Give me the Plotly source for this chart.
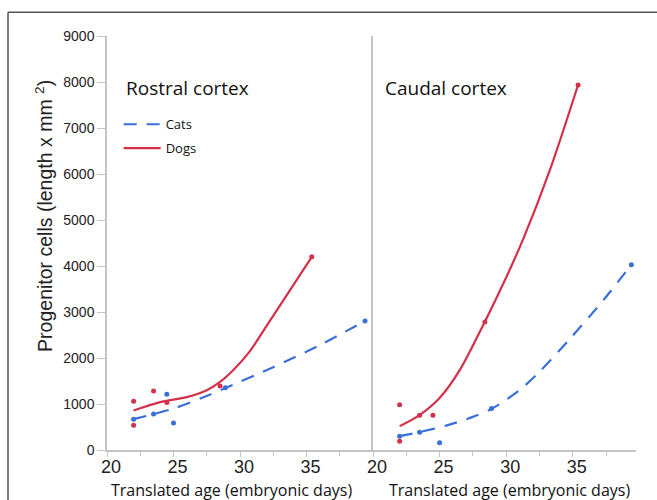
import plotly.graph_objects as go

# ---------------- data ----------------
# Rostral cortex (left panel) observed points
rostral_dogs_x = [22, 22, 23.5, 24.5, 28.5, 35.4]
rostral_dogs_y = [1060, 540, 1280, 1030, 1390, 4200]
rostral_cats_x = [22, 23.5, 24.5, 25, 28.9, 39.4]
rostral_cats_y = [670, 780, 1210, 585, 1355, 2806]

# Rostral fitted curves
rostral_dogs_fit_x = [22, 24, 26, 27.5, 28.5, 29.5, 30.75, 32, 35.4]
rostral_dogs_fit_y = [860, 1040, 1150, 1300, 1480, 1740, 2150, 2700, 4200]
rostral_cats_fit_x = [22, 23.5, 25, 27.2, 29, 32.5, 36, 39.4]
rostral_cats_fit_y = [670, 780, 900, 1140, 1360, 1800, 2280, 2806]

# Caudal cortex (right panel) observed points
caudal_dogs_x = [22, 22, 23.5, 24.5, 28.4, 35.4]
caudal_dogs_y = [985, 192, 758, 758, 2785, 7935]
caudal_cats_x = [22, 23.5, 25, 28.9, 39.4]
caudal_cats_y = [300, 388, 157, 904, 4027]

# Caudal fitted curves
caudal_dogs_fit_x = [22, 23.5, 25, 26.5, 28.4, 30, 31.3, 33.3, 35.4]
caudal_dogs_fit_y = [519, 760, 1130, 1730, 2790, 3750, 4600, 6100, 7935]
caudal_cats_fit_x = [22, 23.5, 25.5, 27.5, 29, 31, 32.5, 34.8, 37.3, 39.4]
caudal_cats_fit_y = [300, 390, 530, 720, 910, 1300, 1700, 2423, 3257, 4027]

x_tick_vals = [20, 25, 30, 35, 40]
left_tick_text = ["20", "25", "30", "35", ""]
right_tick_text = ["20", "25", "30", "35", ""]
y_tick_vals = [0, 1000, 2000, 3000, 4000, 5000, 6000, 7000, 8000, 9000]

panel_titles = ["Rostral cortex", "Caudal cortex"]
x_title = "Translated age (embryonic days)"
y_title = "Progenitor cells (length x mm <sup>2</sup>)"

RED = "#d4304a"
BLUE = "#3a6fda"
DASH = "13px,10px"
SMOOTH = 0.8

fig = go.Figure()

# fitted curves
fig.add_trace(go.Scatter(x=rostral_cats_fit_x, y=rostral_cats_fit_y, mode="lines",
                         line=dict(color=BLUE, width=2.2, dash=DASH, shape="spline", smoothing=SMOOTH),
                         name="Cats", legendgroup="cats", xaxis="x", yaxis="y"))
fig.add_trace(go.Scatter(x=rostral_dogs_fit_x, y=rostral_dogs_fit_y, mode="lines",
                         line=dict(color=RED, width=2.2, shape="spline", smoothing=SMOOTH),
                         name="Dogs", legendgroup="dogs", xaxis="x", yaxis="y"))
fig.add_trace(go.Scatter(x=caudal_cats_fit_x, y=caudal_cats_fit_y, mode="lines",
                         line=dict(color=BLUE, width=2.2, dash=DASH, shape="spline", smoothing=SMOOTH),
                         showlegend=False, xaxis="x2", yaxis="y2"))
fig.add_trace(go.Scatter(x=caudal_dogs_fit_x, y=caudal_dogs_fit_y, mode="lines",
                         line=dict(color=RED, width=2.2, shape="spline", smoothing=SMOOTH),
                         showlegend=False, xaxis="x2", yaxis="y2"))

# observed points
for xs, ys, c, xa, ya in [
    (rostral_cats_x, rostral_cats_y, BLUE, "x", "y"),
    (rostral_dogs_x, rostral_dogs_y, RED, "x", "y"),
    (caudal_cats_x, caudal_cats_y, BLUE, "x2", "y2"),
    (caudal_dogs_x, caudal_dogs_y, RED, "x2", "y2"),
]:
    fig.add_trace(go.Scatter(x=xs, y=ys, mode="markers", marker=dict(color=c, size=5),
                             showlegend=False, xaxis=xa, yaxis=ya))

AXC = "#c4c4c4"
tickfont_x = dict(family="Liberation Sans, Arial, sans-serif", size=18, color="#222")
tickfont_y = dict(family="Liberation Sans, Arial, sans-serif", size=14, color="#222")

split = (373 - 107) / (636 - 107)

xcommon = dict(showline=True, linecolor=AXC, linewidth=1.5, showgrid=False, zeroline=False,
               ticks="outside", ticklen=5, tickcolor=AXC, tickvals=x_tick_vals,
               tickfont=tickfont_x, ticklabelstandoff=-5, ticklabelshift=4,
               minor=dict(dtick=2.5, tick0=20, ticks="outside", ticklen=4, tickcolor=AXC))

fig.update_layout(
    width=657, height=500,
    margin=dict(l=107, r=21, t=36, b=50),
    paper_bgcolor="white", plot_bgcolor="white",
    showlegend=True,
    legend=dict(x=0.022, y=0.823, xanchor="left", yanchor="top",
                font=dict(family="Open Sans, sans-serif", size=13, color="#111"),
                bgcolor="rgba(0,0,0,0)", tracegroupgap=4, itemwidth=37),
    xaxis=dict(domain=[0, split], range=[20, 40], ticktext=left_tick_text, anchor="y", **xcommon),
    xaxis2=dict(domain=[split, 1], range=[20, 39.75], ticktext=right_tick_text, anchor="y2", **xcommon),
    yaxis=dict(range=[0, 9000], showline=True, linecolor=AXC, linewidth=1.5, showgrid=False,
               zeroline=False, ticks="outside", ticklen=8, tickcolor=AXC,
               tickvals=y_tick_vals, tickfont=tickfont_y, anchor="x"),
    yaxis2=dict(range=[0, 9000], showline=True, linecolor=AXC, linewidth=1.5, showgrid=False,
                zeroline=False, ticks="", showticklabels=False, anchor="x2", matches="y"),
)

title_font = dict(family="Open Sans, sans-serif", size=19, color="#111")
fig.add_annotation(text=panel_titles[0], xref="paper", yref="paper", x=(124 - 107) / 529,
                   y=(449.5 - 88) / 413.8, xanchor="left", yanchor="middle",
                   showarrow=False, font=title_font)
fig.add_annotation(text=panel_titles[1], xref="paper", yref="paper", x=(383 - 107) / 529,
                   y=(449.5 - 88) / 413.8, xanchor="left", yanchor="middle",
                   showarrow=False, font=title_font)

xt_font = dict(family="Open Sans, sans-serif", size=16, color="#111")
fig.add_annotation(text=x_title, xref="paper", yref="paper", x=(231 - 107) / 529,
                   y=-(489 - 449.5) / 413.8, xanchor="center", yanchor="middle",
                   showarrow=False, font=xt_font)
fig.add_annotation(text=x_title, xref="paper", yref="paper", x=(509 - 107) / 529,
                   y=-(489 - 449.5) / 413.8, xanchor="center", yanchor="middle",
                   showarrow=False, font=xt_font)
fig.add_annotation(text=y_title, xref="paper", yref="paper", x=(44 - 107) / 529,
                   y=(449.5 - 215.5) / 413.8, xanchor="center", yanchor="middle",
                   textangle=-90, showarrow=False,
                   font=dict(family="Liberation Sans, Arial, sans-serif", size=19.5, color="#222"))

# frame (left and top edges visible in the reference)
FR = "#555"
fx = (8 - 107) / 529
fy = (449.5 - 12) / 413.8
fig.add_shape(type="line", xref="paper", yref="paper", x0=fx, x1=fx, y0=fy, y1=-0.2,
              line=dict(color=FR, width=1.5))
fig.add_shape(type="line", xref="paper", yref="paper", x0=fx, x1=1.2, y0=fy, y1=fy,
              line=dict(color=FR, width=1.5))

fig.write_html("out.html")
